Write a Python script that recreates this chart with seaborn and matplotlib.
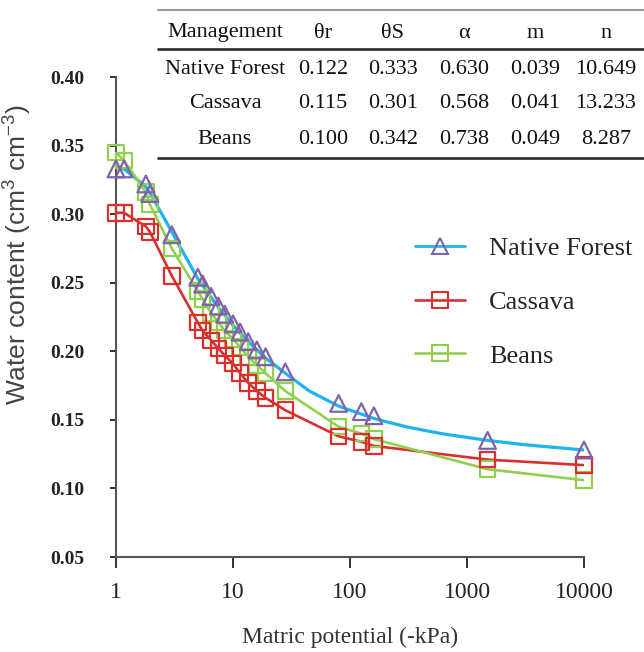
import numpy as np
import pandas as pd
import matplotlib
matplotlib.use('Agg')
import matplotlib.pyplot as plt
from matplotlib.lines import Line2D
import seaborn as sns

# matric potential (-kPa) of the measured points
kpa = [1, 1.17, 1.8, 1.95, 3, 5, 5.5, 6.5, 7.5, 8.5, 10, 11.5, 13.5, 16, 19, 28,
       80, 125, 160, 1500, 10000]

# measured water content (cm3 cm-3)
native_forest = [0.333, 0.333, 0.322, 0.315, 0.285, 0.254, 0.249, 0.240, 0.233, 0.227,
                 0.220, 0.214, 0.207, 0.201, 0.196, 0.185, 0.162, 0.156, 0.153, 0.135, 0.128]
cassava = [0.301, 0.301, 0.291, 0.287, 0.255, 0.221, 0.215, 0.208, 0.202, 0.197,
           0.191, 0.184, 0.177, 0.171, 0.166, 0.157, 0.138, 0.134, 0.131, 0.121, 0.117]
beans = [0.345, 0.339, 0.316, 0.307, 0.275, 0.244, 0.238, 0.228, 0.221, 0.215,
         0.209, 0.203, 0.196, 0.190, 0.184, 0.171, 0.145, 0.140, 0.136, 0.114, 0.106]

# fitted curve of native forest (blue line)
nf_fit_kpa = [1, 1.17, 1.8, 2, 3, 5, 7.5, 10, 13.5, 19, 28, 45, 80, 160, 300, 600,
              1500, 3000, 10000]
nf_fit = [0.334, 0.333, 0.320, 0.314, 0.287, 0.253, 0.232, 0.219, 0.207, 0.195, 0.184,
          0.171, 0.160, 0.151, 0.145, 0.140, 0.135, 0.132, 0.128]

# van Genuchten parameters
table_header = ['Management', 'θr', 'θS', 'α', 'm', 'n']
row_forest = ['Native Forest', '0.122', '0.333', '0.630', '0.039', '10.649']
row_cassava = ['Cassava', '0.115', '0.301', '0.568', '0.041', '13.233']
row_beans = ['Beans', '0.100', '0.342', '0.738', '0.049', '8.287']

y_ticks = [0.05, 0.10, 0.15, 0.20, 0.25, 0.30, 0.35, 0.40]
x_ticks = [1, 10, 100, 1000, 10000]

c_blue = '#1fb4f0'
c_purple = '#7f63a8'
c_red = '#d9302e'
c_green = '#92cf4f'

sns.set_style('ticks')
plt.rcParams['font.family'] = ['Liberation Serif', 'DejaVu Serif']
plt.rcParams['mathtext.fontset'] = 'custom'
plt.rcParams['mathtext.rm'] = 'Liberation Sans'

df = pd.DataFrame({'kpa': kpa, 'nf': native_forest, 'cas': cassava, 'bea': beans})
fit = pd.DataFrame({'kpa': nf_fit_kpa, 'nf': nf_fit})

fig = plt.figure(figsize=(6.44, 6.52), dpi=100)
ax = fig.add_axes([116 / 644, 95 / 652, 468 / 644, 480 / 652])
ax.set_xscale('log')

sns.lineplot(data=fit, x='kpa', y='nf', color=c_blue, lw=2.3, ax=ax, zorder=2)
sns.lineplot(data=df, x='kpa', y='cas', color=c_red, lw=1.9, ax=ax, zorder=2)
sns.lineplot(data=df, x='kpa', y='bea', color=c_green, lw=1.9, ax=ax, zorder=2)

sns.scatterplot(data=df, x='kpa', y='bea', marker='s', s=125, facecolor='none',
                edgecolor=c_green, linewidth=1.6, ax=ax, zorder=3, clip_on=False)
sns.scatterplot(data=df, x='kpa', y='cas', marker='s', s=125, facecolor='none',
                edgecolor=c_red, linewidth=1.6, ax=ax, zorder=3, clip_on=False)
sns.scatterplot(data=df, x='kpa', y='nf', marker='^', s=145, facecolor='none',
                edgecolor=c_purple, linewidth=1.6, ax=ax, zorder=4, clip_on=False)

ax.set_xlim(1, 10000)
ax.set_ylim(0.05, 0.40)
ax.set_xticks(x_ticks)
ax.set_xticklabels([str(v) for v in x_ticks], fontsize=17)
ax.minorticks_off()
ax.set_yticks(y_ticks)
ax.set_yticklabels([f'{v:.2f}' for v in y_ticks], fontsize=14, fontweight='bold')
ax.tick_params(axis='x', length=8, width=1.3, pad=10, colors='#222222')
ax.tick_params(axis='y', length=4, width=1.3, pad=19, colors='#222222')
sns.despine(ax=ax)
for side in ['left', 'bottom']:
    ax.spines[side].set_color('#555555')
    ax.spines[side].set_linewidth(1.5)

ax.set_xlabel('Matric potential (-kPa)', fontsize=17, color='#333333')
ax.xaxis.set_label_coords(0.5, -0.145)
ax.set_ylabel('Water content (cm$^3$ cm$^{-3}$)', fontsize=19, color='#444444',
              family='Liberation Sans')
ax.yaxis.set_label_coords(-0.177, 0.629)

handles = [
    Line2D([], [], color=c_blue, lw=2.0, marker='^', ms=11, mfc='none', mec=c_purple, mew=1.5),
    Line2D([], [], color=c_red, lw=1.9, marker='s', ms=11, mfc='none', mec=c_red, mew=1.5),
    Line2D([], [], color=c_green, lw=1.9, marker='s', ms=11, mfc='none', mec=c_green, mew=1.5),
]
fig.legend(handles, ['Native Forest', 'Cassava', 'Beans'], loc='center left',
           bbox_to_anchor=(415 / 644, 1 - 302 / 652), frameon=False, fontsize=19,
           handlelength=1.9, handletextpad=0.9, labelspacing=1.15, borderpad=0,
           borderaxespad=0)

# parameter table above the plot
col_x = [225, 323, 393, 464, 535, 606]
row_y = [33, 70, 103, 139]
for row, yy in zip([table_header, row_forest, row_cassava, row_beans], row_y):
    for txt, xx in zip(row, col_x):
        fig.text(xx / 644, 1 - yy / 652, txt, ha='center', va='center', fontsize=16,
                 color='#111111')
for yy, col, lw in [(10, '#999999', 1.5), (49, '#333333', 2.0), (158, '#333333', 2.0)]:
    fig.add_artist(Line2D([158 / 644, 1], [1 - yy / 652] * 2, color=col, lw=lw,
                          transform=fig.transFigure))

fig.savefig('out.png', dpi=100)
